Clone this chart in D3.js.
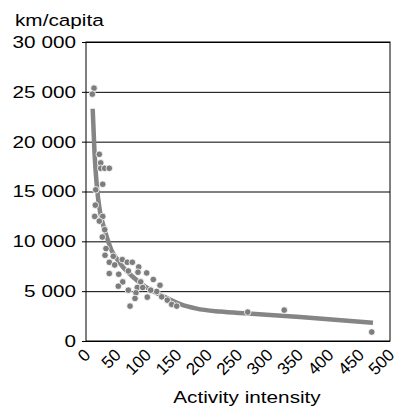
<!DOCTYPE html>
<html>
<head>
<meta charset="utf-8">
<script src="https://cdn.jsdelivr.net/npm/d3@7"></script>
<style>
  body { margin: 0; background: #fff; }
  svg { display: block; font-family: "Liberation Sans", Arial, sans-serif; }
</style>
</head>
<body>
<div id="chart"></div>
<script>
// scatter points (activity intensity, km per capita)
const pointX = [13.2, 10.4, 21.9, 24.2, 24.2, 30.8, 38.3, 27.5, 16, 15.3,
    14.3, 27.5, 21.9, 30.8, 26.8, 32.9, 31.3, 44.9, 38.3, 47.2,
    59.7, 67.9, 76.2, 86.7, 38.3, 53.8, 69.6, 85.5, 99.8, 110.7,
    60.4, 53.1, 90, 121.7, 69.6, 84.4, 93.3, 116.3, 106.4, 82.2,
    80.6, 100.8, 72.4, 124.5, 133.7, 141, 149.2, 266, 326, 470];
const pointY = [25370, 24770, 18730, 17870, 17330, 17330, 17330, 15730, 15170, 13630,
    12500, 12500, 12030, 11170, 10430, 9270, 8600, 8500, 7900, 7630,
    8170, 7900, 7900, 7430, 6770, 6700, 7030, 6900, 6830, 6170,
    5930, 5500, 5930, 5600, 5100, 5370, 5370, 4970, 5100, 4830,
    4270, 4400, 3500, 4430, 4100, 3670, 3500, 2900, 3100, 900];

// fitted trend curve
const fitX = [11, 14, 18, 23, 31, 37, 42, 50, 61, 75, 92, 111, 133, 155, 182, 220, 267, 352, 472];
const fitY = [23300, 18900, 15400, 13000, 11100, 9900, 9100, 8300, 7400, 6550, 5700, 4950, 4300, 3700, 3250, 2950, 2750, 2400, 1830];

const xTicks = [0, 50, 100, 150, 200, 250, 300, 350, 400, 450, 500];
const yTicks = [0, 5000, 10000, 15000, 20000, 25000, 30000];

const yTitle = "km/capita";
const xTitle = "Activity intensity";

const W = 397, H = 410;
const margin = { top: 42, right: 7, bottom: 69, left: 86 },
    width = W - margin.left - margin.right,
    height = H - margin.top - margin.bottom;
const sx = 1.22; // labels are drawn a bit wide in the reference

const svg = d3.select("#chart").append("svg")
    .attr("width", W).attr("height", H);
const g = svg.append("g").attr("transform", `translate(${margin.left},${margin.top})`);

const x = d3.scaleLinear().domain([0, 500]).range([0, width]);
const y = d3.scaleLinear().domain([0, 30000]).range([height, 0]);

const fmt = d3.formatLocale({ decimal: ".", thousands: " ", grouping: [3], currency: ["", ""] }).format(",");

// grid lines
g.append("g")
    .call(d3.axisLeft(y).tickValues(yTicks).tickSize(-width).tickFormat(""))
    .call(a => a.select(".domain").remove())
    .selectAll("line").attr("stroke", "#000").attr("stroke-width", 1);

// frame
g.append("rect")
    .attr("width", width).attr("height", height)
    .attr("fill", "none").attr("stroke", "#000").attr("stroke-width", 1);

// y axis
const yAxis = g.append("g")
    .call(d3.axisLeft(y).tickValues(yTicks).tickSize(4).tickPadding(6).tickFormat(fmt));
yAxis.select(".domain").remove();
yAxis.selectAll("line").attr("stroke", "#000");
yAxis.selectAll("text")
    .attr("font-size", 17).attr("fill", "#000")
    .attr("font-family", "Liberation Sans, Arial, sans-serif")
    .attr("x", -10 / sx)
    .attr("transform", `scale(${sx},1)`);

// x axis
const xAxis = g.append("g")
    .attr("transform", `translate(0,${height})`)
    .call(d3.axisBottom(x).tickValues(xTicks).tickSize(0).tickFormat(d3.format("d")));
xAxis.select(".domain").remove();
xAxis.selectAll("text")
    .attr("font-size", 17).attr("fill", "#000")
    .attr("font-family", "Liberation Sans, Arial, sans-serif")
    .attr("x", 0).attr("y", 0).attr("dy", 0)
    .style("text-anchor", "end")
    .attr("transform", "translate(5,15) rotate(-45)");

// trend curve
const line = d3.line()
    .x((d, i) => x(fitX[i]))
    .y(d => y(d))
    .curve(d3.curveMonotoneX);
g.append("path")
    .datum(fitY)
    .attr("d", line)
    .attr("fill", "none")
    .attr("stroke", "#858585")
    .attr("stroke-width", 4.5);

// points
g.selectAll(".dot")
    .data(pointX.map((v, i) => [v, pointY[i]]))
    .enter().append("circle")
    .attr("class", "dot")
    .attr("cx", d => x(d[0]))
    .attr("cy", d => y(d[1]))
    .attr("r", 3.3)
    .attr("fill", "#7d7d7d")
    .attr("stroke", "#fff")
    .attr("stroke-width", 0.8);

// titles
svg.append("text")
    .attr("transform", `translate(15,26) scale(${sx},1)`)
    .attr("font-size", 17).attr("fill", "#000")
    .text(yTitle);

svg.append("text")
    .attr("transform", `translate(247,403) scale(${sx},1)`)
    .attr("text-anchor", "middle")
    .attr("font-size", 17).attr("fill", "#000")
    .text(xTitle);
</script>
</body>
</html>
